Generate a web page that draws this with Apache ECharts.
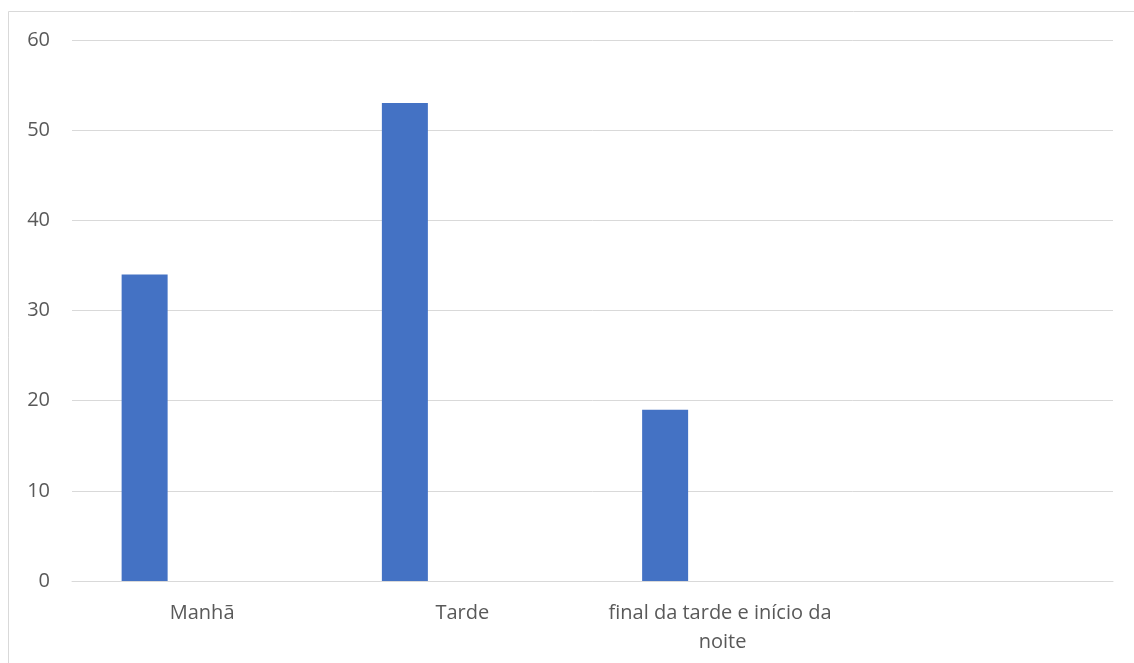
<!DOCTYPE html>
<html>
<head>
<meta charset="utf-8">
<script src="https://cdn.jsdelivr.net/npm/echarts@6/dist/echarts.min.js"></script>
<style>
html,body{margin:0;padding:0;background:#fff;}
#chart{width:1134px;height:663px;}
</style>
</head>
<body>
<div id="chart"></div>
<script>
const categories = ['Manhã', 'Tarde', 'final da tarde e início da noite', ''];
const seriesValues = [34, 53, 19, null];
const secondSeriesValues = [null, null, null, null];
const yTicks = [0, 10, 20, 30, 40, 50, 60];

const chart = echarts.init(document.getElementById('chart'));
const font = '"Open Sans", "Liberation Sans", sans-serif';
chart.setOption({
  animation: false,
  backgroundColor: '#ffffff',
  graphic: [{
    type: 'rect',
    shape: { x: 8.5, y: 11.5, width: 1200, height: 700 },
    style: { fill: 'none', stroke: '#d9d9d9', lineWidth: 1 },
    silent: true
  }],
  grid: { left: 72, right: 21, top: 40, bottom: 82 },
  xAxis: {
    type: 'category',
    data: categories,
    axisLine: { show: true, lineStyle: { color: '#d9d9d9', width: 1 } },
    axisTick: { show: false },
    axisLabel: {
      color: '#595959', fontFamily: font, fontSize: 20, margin: 18,
      interval: 0, width: 245, overflow: 'break', lineHeight: 29
    }
  },
  yAxis: {
    type: 'value',
    min: yTicks[0], max: yTicks[yTicks.length - 1], interval: 10,
    axisLine: { show: false },
    axisTick: { show: false },
    splitLine: { lineStyle: { color: '#d9d9d9', width: 1 } },
    axisLabel: { color: '#595959', fontFamily: font, fontSize: 20, margin: 22 }
  },
  series: [
    { type: 'bar', data: seriesValues, barWidth: 46, barGap: '150%', itemStyle: { color: '#4472c4' } },
    { type: 'bar', data: secondSeriesValues, barWidth: 46, itemStyle: { color: '#ed7d31' } }
  ]
});
</script>
</body>
</html>
